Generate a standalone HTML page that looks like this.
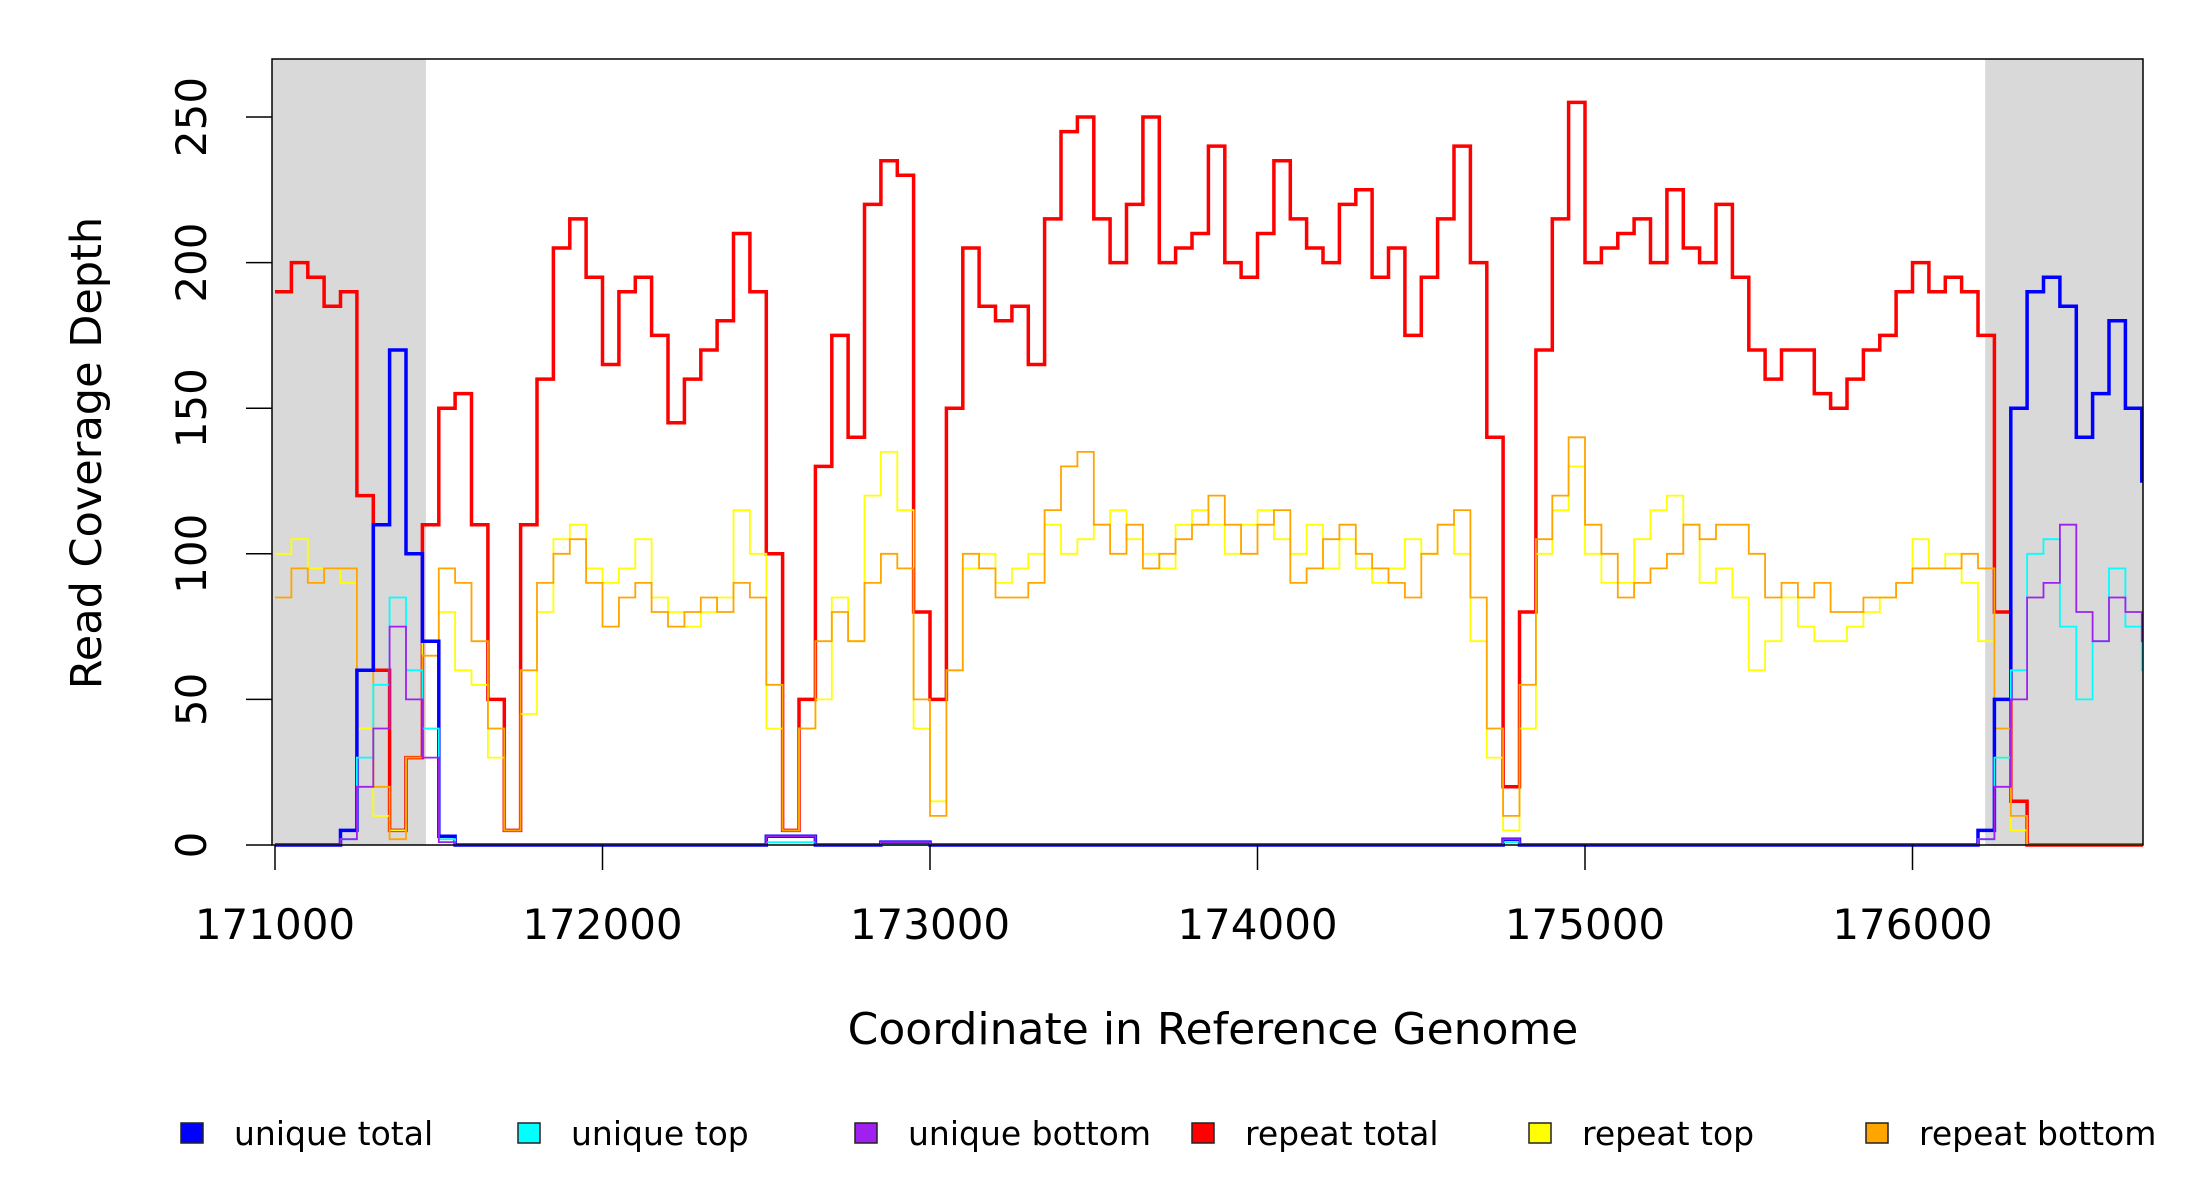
<!DOCTYPE html>
<html><head><meta charset="utf-8">
<style>
html,body{margin:0;padding:0;background:#fff;}
svg{display:block;font-family:"DejaVu Sans","Liberation Sans",sans-serif;}
</style></head>
<body>
<svg id="chart" width="2200" height="1200" viewBox="0 0 2200 1200" xmlns="http://www.w3.org/2000/svg">
<rect x="0" y="0" width="2200" height="1200" fill="#fff"/>
<g id="shade"></g>
<g id="series"></g>
<rect x="272" y="59" width="1871" height="786" fill="none" stroke="#000" stroke-width="1.5"/>
<g id="axes"></g>
<text x="1213" y="1044" font-size="44" text-anchor="middle">Coordinate in Reference Genome</text>
<text transform="translate(101,453) rotate(-90)" font-size="43" text-anchor="middle">Read Coverage Depth</text>
<g id="legend"></g>
</svg>
<script>
const binStart = 171000;
const binSize = 50;
const xEnd = 176710;
const xTicks = [171000,172000,173000,174000,175000,176000];
const yTicks = [0,50,100,150,200,250];
const shadedRanges = [[170988,171461],[176222,176710]];
const seriesNames = ["repeat total","repeat top","repeat bottom","unique total","unique top","unique bottom"];
const repeatTotal = [190,200,195,185,190,120,60,5,30,110,150,155,110,50,5,110,160,205,215,195,165,190,195,175,145,160,170,180,210,190,100,5,50,130,175,140,220,235,230,80,50,150,205,185,180,185,165,215,245,250,215,200,220,250,200,205,210,240,200,195,210,235,215,205,200,220,225,195,205,175,195,215,240,200,140,20,80,170,215,255,200,205,210,215,200,225,205,200,220,195,170,160,170,170,155,150,160,170,175,190,200,190,195,190,175,80,15,0,0,0,0,0,0,0,0];
const repeatTop = [100,105,95,95,90,40,10,5,30,70,80,60,55,30,5,45,80,105,110,95,90,95,105,85,80,75,80,85,115,100,40,5,40,50,85,70,120,135,115,40,15,60,95,100,90,95,100,110,100,105,110,115,105,100,95,110,115,110,100,110,115,105,100,110,95,105,95,90,95,105,100,110,100,70,30,5,40,100,115,130,100,90,90,105,115,120,110,90,95,85,60,70,85,75,70,70,75,80,85,90,105,95,100,90,70,30,5,0,0,0,0,0,0,0,0];
const repeatBottom = [85,95,90,95,95,60,20,2,30,65,95,90,70,40,5,60,90,100,105,90,75,85,90,80,75,80,85,80,90,85,55,5,40,70,80,70,90,100,95,50,10,60,100,95,85,85,90,115,130,135,110,100,110,95,100,105,110,120,110,100,110,115,90,95,105,110,100,95,90,85,100,110,115,85,40,10,55,105,120,140,110,100,85,90,95,100,110,105,110,110,100,85,90,85,90,80,80,85,85,90,95,95,95,100,95,40,10,0,0,0,0,0,0,0,0];
const uniqueTotal = [0,0,0,0,5,60,110,170,100,70,3,0,0,0,0,0,0,0,0,0,0,0,0,0,0,0,0,0,0,0,3,3,3,0,0,0,0,1,1,1,0,0,0,0,0,0,0,0,0,0,0,0,0,0,0,0,0,0,0,0,0,0,0,0,0,0,0,0,0,0,0,0,0,0,0,2,0,0,0,0,0,0,0,0,0,0,0,0,0,0,0,0,0,0,0,0,0,0,0,0,0,0,0,0,5,50,150,190,195,185,140,155,180,150,125];
const uniqueTop = [0,0,0,0,2,30,55,85,60,40,2,0,0,0,0,0,0,0,0,0,0,0,0,0,0,0,0,0,0,0,1,1,1,0,0,0,0,0,0,0,0,0,0,0,0,0,0,0,0,0,0,0,0,0,0,0,0,0,0,0,0,0,0,0,0,0,0,0,0,0,0,0,0,0,0,1,0,0,0,0,0,0,0,0,0,0,0,0,0,0,0,0,0,0,0,0,0,0,0,0,0,0,0,0,2,30,60,100,105,75,50,70,95,75,60];
const uniqueBottom = [0,0,0,0,2,20,40,75,50,30,1,0,0,0,0,0,0,0,0,0,0,0,0,0,0,0,0,0,0,0,3,3,3,0,0,0,0,1,1,1,0,0,0,0,0,0,0,0,0,0,0,0,0,0,0,0,0,0,0,0,0,0,0,0,0,0,0,0,0,0,0,0,0,0,0,2,0,0,0,0,0,0,0,0,0,0,0,0,0,0,0,0,0,0,0,0,0,0,0,0,0,0,0,0,2,20,50,85,90,110,80,70,85,80,70];

const NS = "http://www.w3.org/2000/svg";
function xScale(v){ return 275 + (v - 171000) * 0.3275; }
function yScale(v){ return 845 - v * 2.912; }
function mk(tag, attrs, parent){ const e = document.createElementNS(NS, tag); for (const k in attrs) e.setAttribute(k, attrs[k]); parent.appendChild(e); return e; }

const shade = document.getElementById('shade');
shadedRanges.forEach((r, i) => {
  const x0 = Math.max(272, xScale(r[0]));
  const x1 = Math.min(2143, xScale(r[1]));
  const el = mk('rect', {x: x0, y: 59, width: x1 - x0, height: 786, fill: '#d9d9d9'}, shade);
  
  
});

function stepPath(vals){
  let d = '';
  vals.forEach((v, i) => {
    const x0 = xScale(binStart + i * binSize);
    const x1 = Math.min(2143, xScale(i === vals.length - 1 ? xEnd : binStart + (i + 1) * binSize));
    const y = yScale(v);
    d += (i === 0 ? 'M' : 'L') + x0.toFixed(1) + ',' + y.toFixed(1) + 'L' + x1.toFixed(1) + ',' + y.toFixed(1);
  });
  return d;
}
const seriesGroup = document.getElementById('series');
const seriesDefs = [
  [repeatTotal, '#ff0000', 3.5, 'series-repeat-total'],
  [repeatTop, '#ffff00', 1.8, 'series-repeat-top'],
  [repeatBottom, '#ffa500', 1.8, 'series-repeat-bottom'],
  [uniqueTotal, '#0000ff', 3.5, 'series-unique-total'],
  [uniqueTop, '#00ffff', 1.8, 'series-unique-top'],
  [uniqueBottom, '#a020f0', 1.8, 'series-unique-bottom']
];
seriesDefs.forEach(s => {
  const p = mk('path', {d: stepPath(s[0]), fill: 'none', stroke: s[1], 'stroke-width': s[2], 'stroke-linejoin': 'miter'}, seriesGroup);
  
  
});

const axes = document.getElementById('axes');
xTicks.forEach(t => {
  const l = mk('line', {x1: xScale(t), x2: xScale(t), y1: 845, y2: 870, stroke: '#000', 'stroke-width': 1.5}, axes);
  
  
  const tx = mk('text', {x: xScale(t), y: 939, 'font-size': 42, 'text-anchor': 'middle'}, axes);
  tx.textContent = t;
  
  
});
yTicks.forEach(t => {
  const l = mk('line', {x1: 246, x2: 272, y1: yScale(t), y2: yScale(t), stroke: '#000', 'stroke-width': 1.5}, axes);
  
  
  const tx = mk('text', {transform: 'translate(206,' + yScale(t) + ') rotate(-90)', 'font-size': 42, 'text-anchor': 'middle'}, axes);
  tx.textContent = t;
  
  
});

const legendLabels = ["unique total","unique top","unique bottom","repeat total","repeat top","repeat bottom"];
const legendColors = ['#0000ff','#00ffff','#a020f0','#ff0000','#ffff00','#ffa500'];
const legendX = [181,518,855,1192,1529,1866];
const legend = document.getElementById('legend');
legendLabels.forEach((lab, i) => {
  const g = mk('g', {}, legend);
  
  
  mk('rect', {x: legendX[i], y: 1123, width: 22, height: 20, fill: legendColors[i], stroke: '#222', 'stroke-width': 1.5}, g);
  const t = mk('text', {x: legendX[i] + 53, y: 1145, 'font-size': 33}, g);
  t.textContent = lab;
});
</script>
</body></html>
